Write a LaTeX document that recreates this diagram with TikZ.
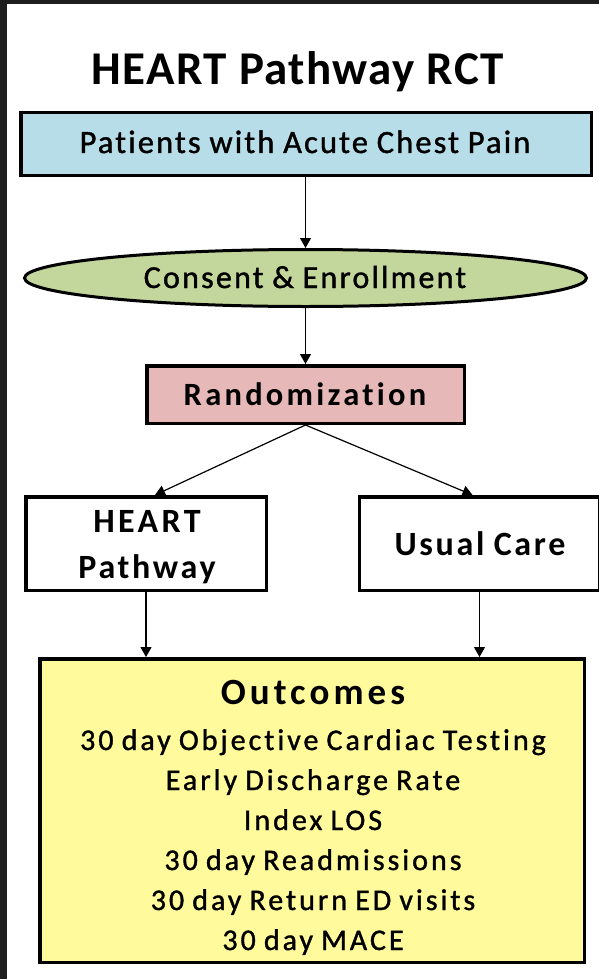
\documentclass[tikz,border=0pt]{standalone}
\usepackage{fontspec}
\setmainfont{Carlito}
\usetikzlibrary{shapes.geometric,arrows.meta}
\definecolor{darkbg}{HTML}{1E1E1E}
\definecolor{cblue}{HTML}{B7DDE8}
\definecolor{cgreen}{HTML}{C3D69B}
\definecolor{cpink}{HTML}{E6B9B8}
\definecolor{cyellow}{HTML}{FFFA9B}
\newcommand\lsp[1]{\addfontfeatures{LetterSpace=#1,Ligatures=NoCommon}\spaceskip=0.27em\relax}
\newcommand\lspr[1]{\addfontfeatures{LetterSpace=#1,Ligatures=NoCommon,FakeBold=1.2}\spaceskip=0.27em\relax}
\tikzset{
  boxstyle/.style={draw=black, line width=3.5pt, rectangle, inner sep=0pt},
  arr/.style={draw=black, line width=1.2pt, -{Triangle[length=10pt,width=11pt]}},
  txt/.style={inner sep=0pt, anchor=base},
}
\begin{document}
\begin{tikzpicture}[x=1pt,y=-1pt]
\useasboundingbox (0,0) rectangle (599,979);
\clip (0,0) rectangle (599,979);
\fill[darkbg] (0,0) rectangle (599,979);
\fill[white] (7,4) rectangle (599,979);

% title
\node[txt] (title) at (298,85) {\fontsize{47}{50}\selectfont\bfseries\addfontfeatures{LetterSpace=3}HEART Pathway RCT};

% boxes
\node[boxstyle, fill=cblue, minimum width=570.5pt, minimum height=62.5pt] (b1) at (306,144) {};
\node[txt] (t1) at (305,153) {\fontsize{32.5}{34}\selectfont\lspr{6.5}Patients with Acute Chest Pain};

\node[draw=black, line width=3pt, ellipse, fill=cgreen, inner sep=0pt, minimum width=562pt, minimum height=57pt] (ell) at (305.5,278) {};
\node[txt] (t2) at (305,288) {\fontsize{32}{34}\selectfont\lspr{7}Consent \& Enrollment};

\node[boxstyle, fill=cpink, minimum width=317.5pt, minimum height=57.5pt] (rand) at (305.5,394.5) {};
\node[txt] (t3) at (305,405) {\fontsize{32.5}{34}\selectfont\bfseries\lsp{10}Randomization};

\node[boxstyle, fill=white, minimum width=240.5pt, minimum height=93.5pt] (heart) at (146,543.5) {};
\node[txt] (t4a) at (147,532) {\fontsize{34}{36}\selectfont\bfseries\lsp{10}HEART};
\node[txt] (t4b) at (147,578) {\fontsize{34}{36}\selectfont\bfseries\lsp{8}Pathway};

\node[boxstyle, fill=white, minimum width=240pt, minimum height=93.5pt] (usual) at (479.5,543.5) {};
\node[txt] (t5) at (480,555) {\fontsize{34}{36}\selectfont\bfseries\lsp{8}Usual Care};

\node[boxstyle, fill=cyellow, minimum width=544.5pt, minimum height=303.5pt] (out) at (312,810.5) {};
\node[txt] (oh) at (313,704) {\fontsize{37}{40}\selectfont\bfseries\lsp{11}Outcomes};
\node[txt] (o1) at (313,750) {\fontsize{30}{32}\selectfont\lspr{10}30 day Objective Cardiac Testing};
\node[txt] (o2) at (313,790) {\fontsize{30}{32}\selectfont\lspr{10}Early Discharge Rate};
\node[txt] (o3) at (313,830) {\fontsize{30}{32}\selectfont\lspr{10}Index LOS};
\node[txt] (o4) at (313,870) {\fontsize{30}{32}\selectfont\lspr{10}30 day Readmissions};
\node[txt] (o5) at (313,910) {\fontsize{30}{32}\selectfont\lspr{10}30 day Return ED visits};
\node[txt] (o6) at (313,950) {\fontsize{30}{32}\selectfont\lspr{10}30 day MACE};

% connectors
\draw[arr] (ell.north |- b1.south) -- (ell.north);
\draw[arr] (ell.south) -- (ell.south |- rand.north);
\draw[arr] (rand.south) -- ([xshift=9pt]heart.north);
\draw[arr] (rand.south) -- ([xshift=-7pt]usual.north);
\draw[arr] (heart.south) -- (heart.south |- out.north);
\draw[arr] (usual.south) -- (usual.south |- out.north);
\end{tikzpicture}
\end{document}
